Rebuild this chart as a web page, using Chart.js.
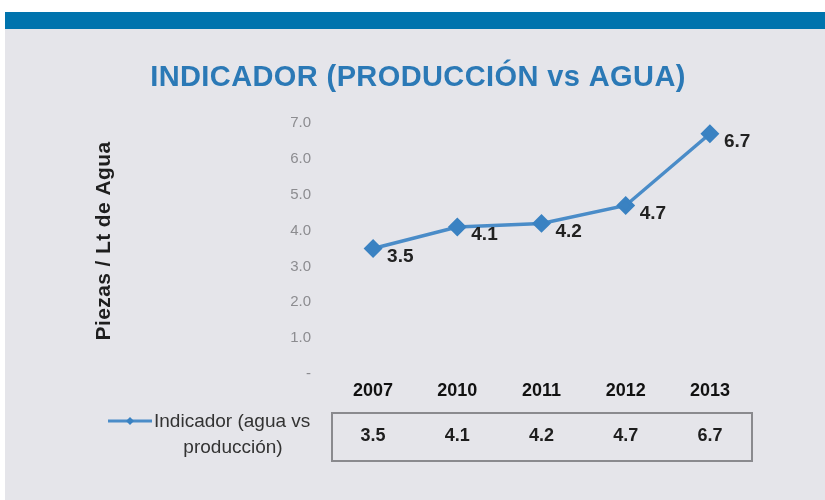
<!DOCTYPE html>
<html>
<head>
<meta charset="utf-8">
<script src="https://cdn.jsdelivr.net/npm/chart.js@4/dist/chart.umd.min.js"></script>
<style>
  html, body { margin: 0; padding: 0; background: #ffffff; }
  #wrap { width: 825px; height: 500px; position: relative; }
</style>
</head>
<body>
<div id="wrap"><canvas id="c" width="825" height="500"></canvas></div>
<script>
const years = ['2007', '2010', '2011', '2012', '2013'];
const indicador = [3.5, 4.1, 4.2, 4.7, 6.7];
const yTicks = [0, 1, 2, 3, 4, 5, 6, 7];
const chartTitle = 'INDICADOR (PRODUCCIÓN vs AGUA)';
const yTitle = 'Piezas / Lt de Agua';
const legendLines = ['Indicador (agua vs', 'producción)'];

const FONT = '"Liberation Sans", Arial, Helvetica, sans-serif';
const LINE_COLOR = '#4a8cc8';
const MARK_COLOR = '#3a82c2';

const decor = {
  id: 'decor',
  beforeDraw(chart) {
    const ctx = chart.ctx;
    ctx.save();
    ctx.fillStyle = '#ffffff';
    ctx.fillRect(0, 0, 825, 500);
    ctx.fillStyle = '#e5e5ea';
    ctx.fillRect(5, 29, 820, 471);
    ctx.fillStyle = '#0073ad';
    ctx.fillRect(5, 12, 820, 17);
    // title
    ctx.fillStyle = '#2b79b6';
    ctx.font = 'bold 29px ' + FONT;
    ctx.letterSpacing = '0.4px';
    ctx.textAlign = 'center';
    ctx.textBaseline = 'middle';
    ctx.fillText(chartTitle, 418, 78);
    // y axis title
    ctx.save();
    ctx.translate(104, 241);
    ctx.rotate(-Math.PI / 2);
    ctx.fillStyle = '#1e1e1e';
    ctx.font = 'bold 21px ' + FONT;
    ctx.letterSpacing = '0.4px';
    ctx.fillText(yTitle, 0, 0);
    ctx.restore();
    ctx.restore();
  },
  afterDraw(chart) {
    const ctx = chart.ctx;
    const xs = chart.scales.x;
    const ys = chart.scales.y;
    const area = chart.chartArea;
    ctx.save();
    // data labels
    ctx.fillStyle = '#222222';
    ctx.font = 'bold 19px ' + FONT;
    ctx.textAlign = 'left';
    ctx.textBaseline = 'middle';
    indicador.forEach((v, i) => {
      const px = xs.getPixelForValue(i);
      const py = ys.getPixelForValue(v);
      ctx.fillText(v.toFixed(1), px + 14, py + 8);
    });
    // data table box
    ctx.strokeStyle = '#8a8a8e';
    ctx.lineWidth = 2;
    ctx.strokeRect(area.left + 1, 413, area.right - area.left - 1, 48);
    ctx.fillStyle = '#1e1e1e';
    ctx.font = 'bold 18px ' + FONT;
    ctx.textAlign = 'center';
    indicador.forEach((v, i) => {
      ctx.fillText(v.toFixed(1), xs.getPixelForValue(i), 436);
    });
    // legend key
    ctx.strokeStyle = LINE_COLOR;
    ctx.lineWidth = 3;
    ctx.beginPath();
    ctx.moveTo(108, 421);
    ctx.lineTo(152, 421);
    ctx.stroke();
    ctx.fillStyle = MARK_COLOR;
    ctx.beginPath();
    ctx.moveTo(130, 417);
    ctx.lineTo(134, 421);
    ctx.lineTo(130, 425);
    ctx.lineTo(126, 421);
    ctx.closePath();
    ctx.fill();
    ctx.fillStyle = '#333333';
    ctx.font = '19px ' + FONT;
    ctx.textAlign = 'left';
    ctx.fillText(legendLines[0], 154, 422);
    ctx.textAlign = 'center';
    ctx.fillText(legendLines[1], 233, 448);
    ctx.restore();
  }
};

new Chart(document.getElementById('c'), {
  type: 'line',
  data: {
    labels: years,
    datasets: [{
      label: 'Indicador (agua vs producción)',
      data: indicador,
      borderColor: LINE_COLOR,
      backgroundColor: MARK_COLOR,
      borderWidth: 3.5,
      pointStyle: 'rectRot',
      pointRadius: 7,
      pointBackgroundColor: MARK_COLOR,
      pointBorderColor: MARK_COLOR,
      tension: 0,
      fill: false
    }]
  },
  options: {
    responsive: false,
    animation: false,
    layout: { padding: { left: 90, top: 123, right: 73, bottom: 0 } },
    plugins: {
      legend: { display: false },
      tooltip: { enabled: false },
      title: { display: false }
    },
    scales: {
      x: {
        offset: true,
        grid: { display: false, drawTicks: false },
        border: { display: false },
        ticks: {
          padding: 6,
          color: '#111111',
          font: { family: FONT, size: 18, weight: 'bold' },
          maxRotation: 0
        },
        afterFit(scale) { scale.height = 126; }
      },
      y: {
        min: 0,
        max: 7,
        grid: { display: false, drawTicks: false },
        border: { display: false },
        afterBuildTicks(scale) { scale.ticks = yTicks.map(v => ({ value: v })); },
        ticks: {
          padding: 20,
          color: '#8c8c90',
          font: { family: FONT, size: 15 },
          callback: (v) => v === 0 ? '-' : Number(v).toFixed(1)
        },
        afterFit(scale) { scale.width = 241; }
      }
    }
  },
  plugins: [decor]
});
</script>
</body>
</html>
